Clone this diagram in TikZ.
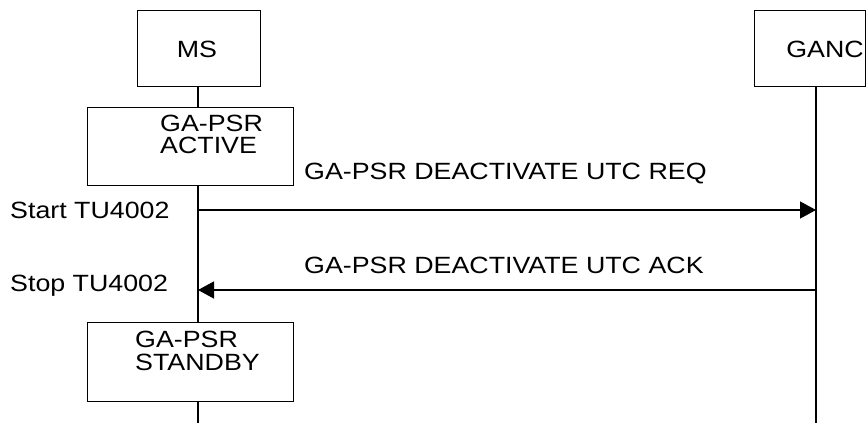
\documentclass[tikz,border=0pt]{standalone}
\usepackage{fontspec}
\setmainfont{Liberation Sans}[FakeStretch=1.14]
\usetikzlibrary{arrows.meta}
\begin{document}
\begin{tikzpicture}[x=1pt,y=-1pt,
  box/.style={draw,line width=1pt,inner sep=0pt,anchor=north west},
  txt/.style={inner sep=0pt,anchor=base west,font=\fontsize{23.5}{22}\selectfont},
  ctxt/.style={inner sep=0pt,anchor=base,font=\fontsize{23.5}{22}\selectfont},
  life/.style={line width=1.4pt},
  msg/.style={line width=1.4pt,-{Triangle[length=16pt,width=17pt]}}]
\useasboundingbox (0,0) rectangle (866,423);
% boxes
\node[box,minimum width=123pt,minimum height=76pt] (ms) at (137,10) {};
\node[ctxt] (mst) at (197,57) {MS};
\node[box,minimum width=111pt,minimum height=76pt] (ganc) at (754,10) {};
\node[ctxt] (ganct) at (825,57) {GANC};
\node[box,minimum width=206pt,minimum height=78pt] (act) at (87,107) {};
\node[txt] (act1) at (160,131) {GA-PSR};
\node[txt] (act2) at (160,153) {ACTIVE};
\node[box,minimum width=206pt,minimum height=79pt] (stb) at (87,322) {};
\node[txt] (stb1) at (135,347) {GA-PSR};
\node[txt] (stb2) at (135,370) {STANDBY};
% lifeline positions
\coordinate (msx) at (198,0);
\coordinate (gx) at (816,0);
\coordinate (msend) at (198,423);
\coordinate (gend) at (816,423);
\draw[life] (msx |- ms.south) -- (msx |- act.north);
\draw[life] (msx |- act.south) -- (msx |- stb.north);
\draw[life] (msx |- stb.south) -- (msend);
\draw[life] (gx |- ganc.south) -- (gend);
% messages
\coordinate (reqL) at (198,210);
\coordinate (reqR) at (816,210);
\coordinate (ackR) at (816,290);
\coordinate (ackL) at (198,290);
\draw[msg] (reqL) -- (reqR);
\draw[msg] (ackR) -- (ackL);
\node[txt] (reqt) at (304,179) {GA-PSR DEACTIVATE UTC REQ};
\node[txt] (ackt) at (304,273) {GA-PSR DEACTIVATE UTC ACK};
\node[txt] (start) at (10,218) {Start TU4002};
\node[txt] (stop) at (10,291) {Stop TU4002};
\end{tikzpicture}
\end{document}
